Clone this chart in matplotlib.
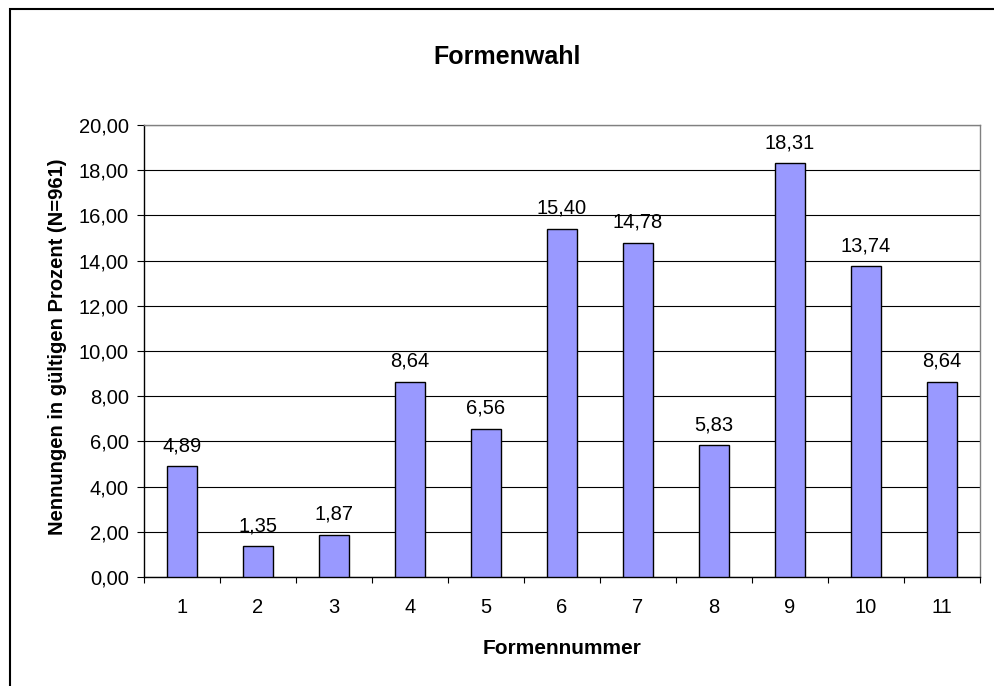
import matplotlib
matplotlib.use('Agg')
import matplotlib.pyplot as plt
from matplotlib.patches import Rectangle
import numpy as np

plt.rcParams['font.family'] = ['Liberation Sans', 'DejaVu Sans']

## Data
categories = ['1', '2', '3', '4', '5', '6', '7', '8', '9', '10', '11']
values = [4.89, 1.35, 1.87, 8.64, 6.56, 15.40, 14.78, 5.83, 18.31, 13.74, 8.64]
value_labels = ['4,89', '1,35', '1,87', '8,64', '6,56', '15,40', '14,78', '5,83', '18,31', '13,74', '8,64']
y_ticks = [0, 2, 4, 6, 8, 10, 12, 14, 16, 18, 20]
y_ticklabels = ['0,00', '2,00', '4,00', '6,00', '8,00', '10,00', '12,00', '14,00', '16,00', '18,00', '20,00']

W, H = 994, 686
fig = plt.figure(figsize=(W / 100, H / 100), dpi=100)

# outer chart border (clipped on right/bottom like the reference)
fig.patches.append(Rectangle((10 / W, -0.1), 1.2, (H - 9) / H + 0.1, transform=fig.transFigure,
                             fill=False, edgecolor='black', linewidth=1.5))

ax = fig.add_axes([144 / W, (H - 577) / H, (980 - 144) / W, (577 - 125) / H])

x = np.arange(1, len(values) + 1)
ax.bar(x, values, width=0.4, color='#9999FF', edgecolor='black', linewidth=1.0, zorder=3)

for xi, v, lab in zip(x, values, value_labels):
    ax.annotate(lab, (xi, v), xytext=(0, 8), textcoords='offset points',
                ha='center', va='bottom', fontsize=14.5)

ax.set_xlim(0.5, len(values) + 0.5)
ax.set_ylim(0, 20)
ax.set_yticks(y_ticks)
ax.set_yticklabels(y_ticklabels, fontsize=14.5)
ax.yaxis.grid(True, color='black', linewidth=0.8, zorder=0)

# x ticks at category boundaries, labels at centers
ax.set_xticks(np.arange(0.5, len(values) + 1, 1.0))
ax.set_xticklabels([])
ax.set_xticks(x, minor=True)
ax.set_xticklabels(categories, minor=True, fontsize=14.5)
ax.tick_params(axis='x', which='minor', length=0, pad=15)
ax.tick_params(axis='x', which='major', length=4, direction='out', color='black')
ax.tick_params(axis='y', length=5, direction='out', pad=6)

for s in ['left', 'bottom']:
    ax.spines[s].set_color('black')
    ax.spines[s].set_linewidth(1.0)
for s in ['right', 'top']:
    ax.spines[s].set_color('#808080')
    ax.spines[s].set_linewidth(1.0)

ax.set_xlabel('Formennummer', fontsize=15, fontweight='bold', labelpad=16)
ax.set_ylabel('Nennungen in gültigen Prozent (N=961)', fontsize=14.5, fontweight='bold')
ax.yaxis.set_label_coords(-(144 - 67) / 836, (577 - 347) / 452)
fig.text(507 / W, 1 - 57 / H, 'Formenwahl', ha='center', va='center', fontsize=18, fontweight='bold')

fig.savefig('out.png', dpi=100)
